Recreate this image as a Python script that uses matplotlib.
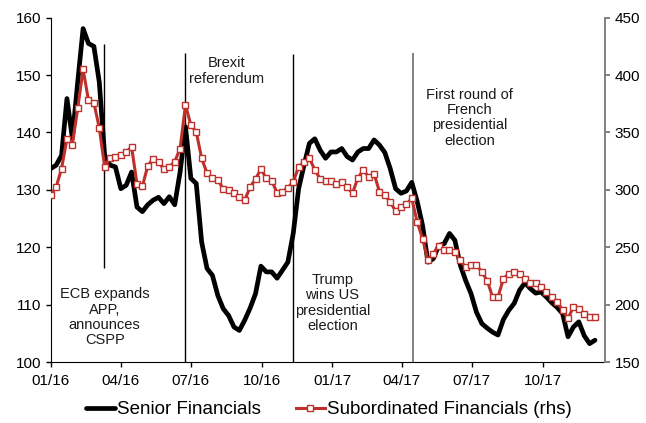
import matplotlib
matplotlib.use("Agg")
import matplotlib.pyplot as plt
import matplotlib.dates as mdates
import pandas as pd

plt.rcParams["font.family"] = ["Liberation Sans", "DejaVu Sans"]

# weekly observations, first Friday of 2016 onwards
DATES = pd.date_range("2016-01-01", periods=102, freq="W-FRI")

SENIOR = [
    133.7, 134.3, 136.0, 145.9, 139.0, 148.8, 158.1, 155.5, 155.0, 148.8,
    136.0, 134.3, 134.0, 130.2, 130.8, 133.1, 127.0, 126.2, 127.4, 128.2,
    128.7, 127.6, 128.8, 127.4, 133.1, 141.0, 132.0, 131.1, 120.9, 116.3,
    115.1, 111.6, 109.3, 108.1, 106.1, 105.5, 107.3, 109.4, 111.9, 116.7,
    115.7, 115.7, 114.6, 116.0, 117.4, 122.4, 130.2, 134.3, 138.1, 138.9,
    136.9, 135.5, 136.6, 136.6, 137.2, 135.8, 135.2, 136.6, 137.2, 137.2,
    138.7, 137.8, 136.5, 133.7, 130.2, 129.4, 129.8, 131.3, 128.0, 123.8,
    117.4, 118.0, 120.3, 120.6, 122.4, 121.2, 116.9, 114.2, 111.9, 108.7,
    106.7, 105.9, 105.2, 104.7, 107.4, 109.0, 110.2, 112.5, 113.8, 112.8,
    112.0, 112.2, 111.3, 110.3, 109.5, 108.4, 104.4, 106.1, 107.0, 104.6,
    103.2, 103.8,
]

SUBORDINATED = [
    295.5, 302.5, 318.5, 344.5, 339.5, 371.0, 405.0, 378.0, 376.0, 354.0,
    320.0, 328.0, 329.0, 330.0, 333.0, 337.5, 305.0, 303.0, 321.0, 327.0,
    324.0, 318.0, 320.0, 324.5, 336.0, 374.0, 356.5, 350.5, 327.5, 314.5,
    310.5, 308.5, 301.0, 299.5, 297.5, 294.0, 291.0, 302.5, 309.5, 318.0,
    310.0, 308.0, 297.5, 298.5, 302.0, 307.0, 320.0, 324.5, 327.5, 317.5,
    309.5, 308.0, 308.0, 305.5, 307.0, 302.5, 297.0, 310.5, 317.0, 311.5,
    314.0, 298.5, 295.5, 289.5, 281.5, 285.0, 287.5, 292.5, 272.0, 257.5,
    238.5, 244.5, 251.5, 247.5, 247.5, 246.0, 238.5, 232.5, 234.5, 234.5,
    228.5, 221.0, 206.5, 206.5, 222.5, 227.0, 228.5, 226.5, 222.5, 219.0,
    218.5, 215.5, 211.0, 206.5, 202.5, 195.0, 188.0, 198.0, 196.5, 192.0,
    189.0, 189.0,
]

EVENT_DATES = ["2016-03-10", "2016-06-23", "2016-11-11", "2017-04-15"]
EVENT_LABELS = [
    "ECB expands\nAPP,\nannounces\nCSPP",
    "Brexit\nreferendum",
    "Trump\nwins US\npresidential\nelection",
    "First round of\nFrench\npresidential\nelection",
]

RED = "#C0302B"
GREY = "#808080"

fig = plt.figure(figsize=(6.46, 4.23), dpi=100)
ax = fig.add_axes([0.0786, 0.1442, 0.8579, 0.814])
ax2 = ax.twinx()

ax.plot(DATES, SENIOR, color="black", linewidth=3.4, solid_capstyle="round",
        solid_joinstyle="round", label="Senior Financials", zorder=3)
ax2.plot(DATES, SUBORDINATED, color=RED, linewidth=2.2, marker="s", markersize=4.3,
         markerfacecolor="white", markeredgecolor=RED, markeredgewidth=1.0,
         label="Subordinated Financials (rhs)", zorder=2)

# event markers: (ymin, ymax) in left-axis units, line colour
event_spans = [(116.4, 155.4, "black"), (100, 153.9, "black"),
               (100, 153.7, "black"), (100, 153.8, GREY)]
for d, (lo, hi, c) in zip(EVENT_DATES, event_spans):
    ax.vlines(pd.Timestamp(d), lo, hi, color=c, linewidth=1.0 if c == "black" else 1.4,
              zorder=1)

text_pos = [("2016-03-11", 107.8), ("2016-08-17", 150.7),
            ("2017-01-01", 110.3), ("2017-06-28", 142.6)]
for (d, yv), label in zip(text_pos, EVENT_LABELS):
    ax.text(pd.Timestamp(d), yv, label, ha="center", va="center", fontsize=10.5,
            color="#1a1a1a", linespacing=1.12, zorder=4)

ax.set_xlim(pd.Timestamp("2016-01-01"), pd.Timestamp("2017-12-21"))
ax.set_ylim(100, 160)
ax.set_yticks(range(100, 161, 10))
ax2.set_ylim(150, 450)
ax2.set_yticks(range(150, 451, 50))

ax.xaxis.set_major_locator(mdates.MonthLocator(bymonth=[1, 4, 7, 10]))
ax.xaxis.set_major_formatter(mdates.DateFormatter("%m/%y"))

for a in (ax, ax2):
    a.spines["top"].set_visible(False)
    a.tick_params(direction="out", length=3.5, width=1.0, labelsize=11, colors="black")
ax2.spines["left"].set_visible(False)
ax2.spines["bottom"].set_visible(False)
ax.spines["right"].set_visible(False)
ax2.spines["right"].set_color(GREY)
ax2.spines["right"].set_linewidth(1.4)
ax2.tick_params(axis="y", color=GREY, width=1.4)
ax.tick_params(axis="x", pad=5)

h1, l1 = ax.get_legend_handles_labels()
h2, l2 = ax2.get_legend_handles_labels()
fig.legend(h1 + h2, l1 + l2, loc="center", bbox_to_anchor=(0.509, 0.031), ncol=2,
           frameon=False, fontsize=13.5, handlelength=1.55, handletextpad=0.1,
           columnspacing=1.85, numpoints=1)

fig.savefig("out.png", dpi=100)
